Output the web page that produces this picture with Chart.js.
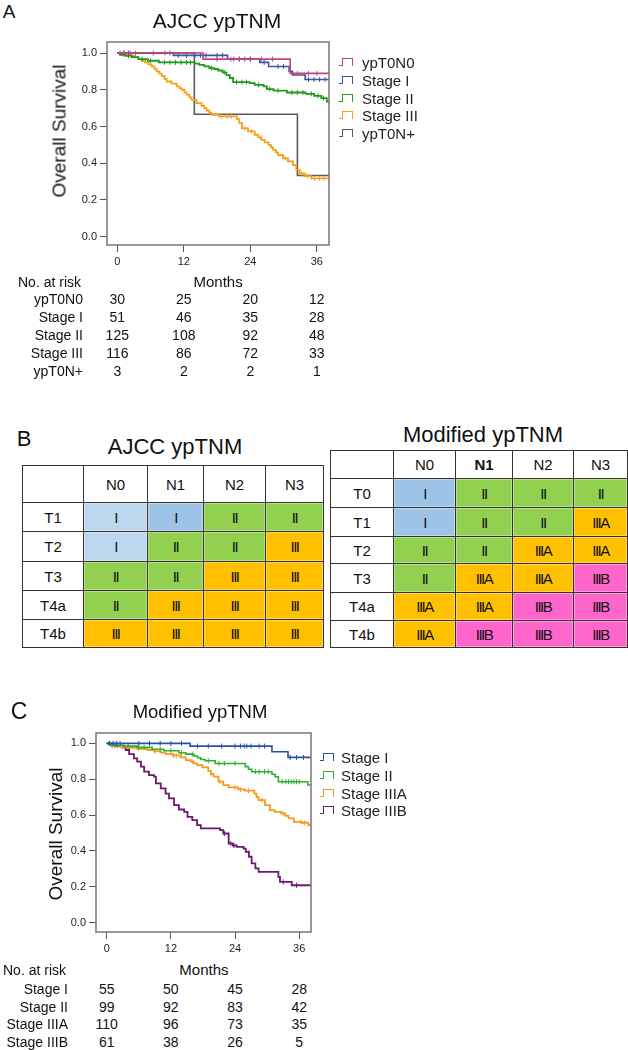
<!DOCTYPE html>
<html><head><meta charset="utf-8">
<script src="https://cdn.jsdelivr.net/npm/chart.js@4.4.1/dist/chart.umd.min.js"></script>
<style>
body{margin:0;width:628px;height:1050px;position:relative;background:#fff;font-family:"Liberation Sans",Arial,sans-serif;color:#111;overflow:hidden}
.t{position:absolute;white-space:nowrap;line-height:1}
canvas{position:absolute}
.cell{position:absolute;box-sizing:border-box;border:1px solid #333;display:flex;align-items:center;justify-content:center;font-size:15px;color:#111}
.rn{letter-spacing:-1.5px;font-size:15px}
.ic{position:absolute;width:15px;height:9px}
.ic i{position:absolute;display:block}
</style></head><body>
<canvas id="cA" width="340" height="250" style="left:0;top:30px"></canvas>
<canvas id="cC" width="330" height="240" style="left:0;top:720px"></canvas>
<div id="ov"></div>
<script>
// ---------- shared ticks ----------
const monthTicks = [0, 12, 24, 36];
const survTicks = [0, 0.2, 0.4, 0.6, 0.8, 1.0];

// ---------- Panel A : AJCC ypTNM ----------
const aLabels = ['ypT0N0', 'Stage I', 'Stage II', 'Stage III', 'ypT0N+'];
const aT0N0_t = [0, 15.5, 31.2, 38.2];
const aT0N0_s = [1, 0.967, 0.889, 0.889];
const aT0N0_c = [1.1, 2.3, 3.3, 6.5, 8.6, 9.5, 18, 20.5, 22, 24, 26, 28, 32.5, 34.5, 36];
const aS1_t = [0, 10.1, 19.9, 25.7, 27.3, 31.0, 31.6, 33.9, 38.2];
const aS1_s = [1, 0.987, 0.967, 0.949, 0.927, 0.9, 0.88, 0.856, 0.856];
const aS1_c = [0.5, 1.2, 2, 11, 12.5, 14, 15, 16, 18, 19, 21, 22, 23, 24, 26.5, 29, 30, 34.5, 35.5, 36.5, 37.5];
const aS2_t = [0, 0.5, 1.4, 2.6, 3.8, 5.5, 7.5, 14.0, 14.8, 15.7, 16.6, 17.5, 18.2, 19.0, 19.7, 20.3, 20.9, 23.9, 24.8, 26.4, 27.0, 28.2, 30.6, 34.0, 35.5, 36.8, 37.8, 38.2];
const aS2_s = [1, 0.99, 0.985, 0.978, 0.967, 0.958, 0.949, 0.942, 0.935, 0.927, 0.918, 0.913, 0.905, 0.895, 0.88, 0.864, 0.842, 0.836, 0.827, 0.818, 0.804, 0.795, 0.785, 0.778, 0.767, 0.755, 0.735, 0.735];
const aS2_c = [2, 4.5, 6, 8.5, 9.5, 10.5, 11.5, 12.5, 13.2, 17, 19.3, 21.5, 22.5, 23.3, 25.5, 27.5, 29, 31.5, 32.5, 33.5, 35, 36.2, 37.2];
const aS3_t = [0, 0.8, 1.4, 2.6, 3.2, 3.8, 4.4, 5.0, 5.6, 6.2, 6.7, 7.1, 7.6, 8.0, 8.5, 8.9, 9.8, 10.7, 11.2, 11.6, 12.1, 12.5, 13.0, 13.4, 14.3, 15.2, 15.7, 16.1, 16.6, 17.0, 18.3, 21.6, 22.0, 22.5, 23.6, 24.8, 25.4, 26.0, 26.6, 27.3, 27.7, 28.1, 28.6, 29.0, 29.9, 30.8, 31.7, 32.3, 32.9, 33.8, 35.0, 38.2];
const aS3_s = [1, 0.995, 0.991, 0.985, 0.976, 0.967, 0.958, 0.949, 0.938, 0.927, 0.914, 0.9, 0.888, 0.876, 0.86, 0.845, 0.833, 0.818, 0.809, 0.8, 0.786, 0.773, 0.759, 0.745, 0.727, 0.713, 0.7, 0.687, 0.675, 0.664, 0.655, 0.64, 0.62, 0.59, 0.573, 0.555, 0.541, 0.527, 0.514, 0.5, 0.486, 0.473, 0.459, 0.445, 0.427, 0.41, 0.39, 0.364, 0.345, 0.33, 0.318, 0.318];
const aS3_c = [1, 2, 18.8, 19.8, 20.6, 23, 24.2, 25.9, 30.3, 33.3, 34.3, 35.6, 36.5, 37.3];
const aT0Np_t = [0, 13.9, 32.5, 38.2];
const aT0Np_s = [1, 0.667, 0.333, 0.333];
const aT0Np_c = [];
const riskA_T0N0 = [30, 25, 20, 12];
const riskA_S1 = [51, 46, 35, 28];
const riskA_S2 = [125, 108, 92, 48];
const riskA_S3 = [116, 86, 72, 33];
const riskA_T0Np = [3, 2, 2, 1];

// ---------- Panel B : staging tables ----------
const ajccRows = ['T1', 'T2', 'T3', 'T4a', 'T4b'];
const ajccCols = ['N0', 'N1', 'N2', 'N3'];
const ajccStage = [
  ['I', 'I', 'II', 'II'],
  ['I', 'II', 'II', 'III'],
  ['II', 'II', 'III', 'III'],
  ['II', 'III', 'III', 'III'],
  ['III', 'III', 'III', 'III']];
const modRows = ['T0', 'T1', 'T2', 'T3', 'T4a', 'T4b'];
const modCols = ['N0', 'N1', 'N2', 'N3'];
const modStage = [
  ['I', 'II', 'II', 'II'],
  ['I', 'II', 'II', 'IIIA'],
  ['II', 'II', 'IIIA', 'IIIA'],
  ['II', 'IIIA', 'IIIA', 'IIIB'],
  ['IIIA', 'IIIA', 'IIIB', 'IIIB'],
  ['IIIA', 'IIIB', 'IIIB', 'IIIB']];

// ---------- Panel C : Modified ypTNM ----------
const cLabels = ['Stage I', 'Stage II', 'Stage IIIA', 'Stage IIIB'];
const cS1_t = [0, 15.6, 30.9, 33.9, 38.2];
const cS1_s = [1, 0.985, 0.953, 0.922, 0.922];
const cS1_c = [0.5, 1.2, 1.8, 2.5, 6, 8, 10, 12, 14, 17, 19, 21.5, 24, 25, 25.7, 26.2, 27, 28.5, 29.5, 34.3, 35.5, 36.8];
const cS2_t = [0, 0.8, 1.4, 3.2, 5.7, 8.5, 10.7, 13.5, 14.8, 16.3, 17.0, 17.6, 18.4, 20.3, 25.9, 26.5, 27.1, 30.9, 31.5, 32.1, 37.6, 38.2];
const cS2_s = [1, 0.993, 0.99, 0.985, 0.978, 0.967, 0.959, 0.948, 0.94, 0.93, 0.92, 0.91, 0.903, 0.888, 0.87, 0.856, 0.842, 0.828, 0.814, 0.786, 0.768, 0.768];
const cS2_c = [1, 2, 4, 6, 7, 10, 12, 14, 16, 19, 21, 22, 24, 27.8, 28.5, 29.5, 30.2, 32.8, 33.5, 34, 34.5, 35, 35.5, 36];
const cS3a_t = [0, 0.8, 1.4, 2.6, 4.0, 5.7, 7.6, 8.9, 10.1, 11.0, 12.3, 13.8, 14.8, 15.7, 16.3, 16.9, 17.9, 19.0, 19.5, 20.0, 20.9, 21.8, 22.8, 24.6, 25.8, 27.6, 28.0, 28.4, 29.6, 30.5, 31.4, 32.6, 33.4, 34.0, 35.0, 36.5, 37.7, 38.2];
const cS3a_s = [1, 0.993, 0.987, 0.98, 0.975, 0.97, 0.963, 0.955, 0.948, 0.94, 0.933, 0.922, 0.907, 0.898, 0.888, 0.879, 0.866, 0.847, 0.83, 0.814, 0.786, 0.767, 0.754, 0.743, 0.736, 0.72, 0.7, 0.683, 0.655, 0.627, 0.618, 0.609, 0.595, 0.581, 0.562, 0.557, 0.544, 0.544];
const cS3a_c = [1, 2, 3, 6, 9, 12.5, 13, 16, 19.5, 21.2, 24, 25, 26.5, 29, 33, 36.3, 37];
const cS3b_t = [0, 0.75, 1.7, 2.9, 3.55, 4.2, 5.1, 5.7, 6.4, 7.0, 7.9, 8.85, 9.2, 10.1, 11.0, 11.65, 12.6, 13.5, 14.5, 15.1, 16.0, 16.9, 17.6, 21.2, 21.8, 22.8, 23.6, 24.3, 25.6, 26.0, 26.6, 27.1, 27.8, 28.4, 32.1, 32.4, 34.6, 38.2];
const cS3b_s = [1, 0.99, 0.985, 0.978, 0.963, 0.94, 0.916, 0.898, 0.87, 0.842, 0.823, 0.814, 0.777, 0.749, 0.72, 0.693, 0.655, 0.631, 0.618, 0.59, 0.572, 0.544, 0.525, 0.516, 0.497, 0.441, 0.43, 0.422, 0.413, 0.395, 0.367, 0.33, 0.302, 0.283, 0.255, 0.227, 0.208, 0.208];
const cS3b_c = [0.5, 1, 1.5, 22, 23.2, 23.8, 33, 35.5];
const riskC_S1 = [55, 50, 45, 28];
const riskC_S2 = [99, 92, 83, 42];
const riskC_S3a = [110, 96, 73, 35];
const riskC_S3b = [61, 38, 26, 5];

// ================= rendering =================
const FONT = '"Liberation Sans", Arial, sans-serif';
const ov = document.getElementById('ov');
function txt(s, x, y, size, align, extra) {
  const d = document.createElement('div');
  d.className = 't';
  d.textContent = s;
  d.style.left = x + 'px';
  d.style.top = y + 'px';
  d.style.fontSize = size + 'px';
  const tx = align === 'right' ? '-100%' : (align === 'left' ? '0' : '-50%');
  d.style.transform = 'translate(' + tx + ',-50%)' + (extra && extra.rot ? ' rotate(-90deg)' : '');
  if (extra && extra.css) Object.assign(d.style, extra.css);
  ov.appendChild(d);
  return d;
}
function stepData(t, s) { return t.map((x, i) => ({x: x, y: s[i]})); }
function survAt(t, s, x) { let v = s[0]; for (let i = 0; i < t.length; i++) if (t[i] <= x) v = s[i]; return v; }

const framePlugin = {
  id: 'frame',
  afterDatasetsDraw(chart) {
    const a = chart.chartArea, ctx = chart.ctx;
    ctx.save();
    ctx.strokeStyle = '#777';
    ctx.lineWidth = 1.5;
    ctx.strokeRect(a.left, a.top, a.right - a.left, a.bottom - a.top);
    ctx.restore();
  }
};

function kmChart(id, series, cfg) {
  const datasets = [];
  series.forEach(sr => {
    datasets.push({label: sr.name, data: stepData(sr.t, sr.s), borderColor: sr.color, borderWidth: sr.w,
      stepped: 'before', pointRadius: 0, fill: false, tension: 0});
    if (sr.c.length) datasets.push({label: sr.name + ' censored', data: sr.c.map(x => ({x: x, y: survAt(sr.t, sr.s, x)})),
      showLine: false, pointStyle: 'line', rotation: 90, pointRadius: 2.5, pointBorderWidth: 1,
      borderColor: sr.color, backgroundColor: sr.color, pointHoverRadius: 0});
  });
  const tickFont = {family: FONT, size: 11};
  return new Chart(document.getElementById(id), {
    type: 'line',
    data: {datasets: datasets},
    options: {
      responsive: false, animation: false, devicePixelRatio: 1,
      layout: {padding: {left: 0, top: cfg.top, right: cfg.right, bottom: 0}},
      plugins: {legend: {display: false}, tooltip: {enabled: false}},
      events: [],
      scales: {
        x: {type: 'linear', min: cfg.xmin, max: cfg.xmax,
          afterBuildTicks: s => { s.ticks = monthTicks.map(v => ({value: v})); },
          afterFit: s => { s.height = cfg.xh; },
          grid: {display: true, drawOnChartArea: false, drawTicks: true, tickLength: 7, color: '#555', lineWidth: 1},
          border: {display: false},
          ticks: {autoSkip: false, maxRotation: 0, padding: 3, color: '#222', font: tickFont, callback: v => String(v)}},
        y: {type: 'linear', min: cfg.ymin, max: cfg.ymax,
          afterBuildTicks: s => { s.ticks = survTicks.map(v => ({value: v})); },
          afterFit: s => { s.width = cfg.yw; },
          grid: {display: true, drawOnChartArea: false, drawTicks: true, tickLength: 7, color: '#555', lineWidth: 1},
          border: {display: false},
          ticks: {autoSkip: false, padding: 3, color: '#222', font: tickFont, callback: v => Number(v).toFixed(1)}}
      }
    },
    plugins: [framePlugin]
  });
}

// ---- Panel A chart ----
const colA = ['#c2457f', '#3b55a5', '#1f9a1f', '#f7a11a', '#5a5a5a'];
const chartA = kmChart('cA', [
  {name: aLabels[0], t: aT0N0_t, s: aT0N0_s, c: aT0N0_c, color: colA[0], w: 1.6},
  {name: aLabels[1], t: aS1_t, s: aS1_s, c: aS1_c, color: colA[1], w: 1.6},
  {name: aLabels[2], t: aS2_t, s: aS2_s, c: aS2_c, color: colA[2], w: 1.8},
  {name: aLabels[3], t: aS3_t, s: aS3_s, c: aS3_c, color: colA[3], w: 1.8},
  {name: aLabels[4], t: aT0Np_t, s: aT0Np_s, c: aT0Np_c, color: colA[4], w: 1.6}
], {top: 12, right: 11, xh: 35, yw: 107, xmin: -1.86, xmax: 38.2, ymin: -0.045, ymax: 1.06});

// ---- Panel C chart ----
const colC = ['#2e4fa8', '#2fae2f', '#f79a1e', '#6a1b6e'];
const chartC = kmChart('cC', [
  {name: cLabels[0], t: cS1_t, s: cS1_s, c: cS1_c, color: colC[0], w: 1.6},
  {name: cLabels[1], t: cS2_t, s: cS2_s, c: cS2_c, color: colC[1], w: 1.6},
  {name: cLabels[2], t: cS3a_t, s: cS3a_s, c: cS3a_c, color: colC[2], w: 1.8},
  {name: cLabels[3], t: cS3b_t, s: cS3b_s, c: cS3b_c, color: colC[3], w: 1.8}
], {top: 13, right: 19, xh: 28, yw: 96, xmin: -2.0, xmax: 38.2, ymin: -0.053, ymax: 1.058});

// ---- titles & labels ----
txt('A', 9, 11, 19);
txt('AJCC ypTNM', 217, 20, 21);
txt('Overall Survival', 59, 131, 19, 'center', {rot: true});
txt('B', 24, 439, 22);
txt('AJCC ypTNM', 175, 447, 22);
txt('Modified ypTNM', 483, 435, 22);
txt('C', 19, 711, 23);
txt('Modified ypTNM', 200, 712, 18.5);
txt('Overall Survival', 55, 834, 19, 'center', {rot: true});

// ---- legends ----
function legend(labels, colors, iconX, textX, ys, size) {
  labels.forEach((l, i) => {
    const ic = document.createElement('div');
    ic.className = 'ic';
    ic.style.left = iconX + 'px';
    ic.style.top = (ys[i] - 4) + 'px';
    const c = colors[i];
    ic.innerHTML = '<i style="left:0;top:7px;width:4px;height:0;border-top:1.5px solid ' + c + '"></i>' +
      '<i style="left:3px;top:0;width:9px;height:7px;border:1.5px solid ' + c + ';border-bottom:none"></i>';
    ov.appendChild(ic);
    txt(l, textX, ys[i], size, 'left', {css: {color: '#222'}});
  });
}
legend(aLabels, colA, 339, 362, [62, 80, 97.5, 115, 133], 15);
legend(cLabels, colC, 320, 341, [757, 774.5, 792.5, 810], 15);

// ---- number at risk ----
function riskTable(chart, canvasLeft, labels, rows, headY, ys, labelRight, noLeft) {
  txt('No. at risk', noLeft, headY, 14, 'left');
  const xs = monthTicks.map(m => canvasLeft + chart.scales.x.getPixelForValue(m));
  txt('Months', (xs[0] + xs[3]) / 2 + 1, headY - 1, 15);
  labels.forEach((l, i) => {
    txt(l, labelRight, ys[i], 14, 'right');
    rows[i].forEach((v, j) => txt(String(v), xs[j], ys[i], 14));
  });
}
riskTable(chartA, 0, aLabels, [riskA_T0N0, riskA_S1, riskA_S2, riskA_S3, riskA_T0Np], 282, [299, 316.5, 334.5, 352.5, 370.5], 83, 18);
riskTable(chartC, 0, cLabels, [riskC_S1, riskC_S2, riskC_S3a, riskC_S3b], 970, [989, 1006.5, 1024, 1041.5], 68, 3);

// ---- Panel B tables ----
const stageFill = {'I': '#9dc3e6', 'II': '#92d050', 'III': '#ffc000', 'IIIA': '#ffc000', 'IIIB': '#ff66cc'};
const ajccLightI = '#bdd7ee';
function cell(x0, y0, x1, y1, content, fill, bold, roman) {
  const d = document.createElement('div');
  d.className = 'cell';
  d.style.left = x0 + 'px'; d.style.top = y0 + 'px';
  d.style.width = (x1 - x0 + 1) + 'px'; d.style.height = (y1 - y0 + 1) + 'px';
  d.style.background = fill || '#fff';
  if (fill) d.style.boxShadow = 'inset 0 0 0 1px rgba(255,255,255,0.35)';
  const s = document.createElement('span');
  s.textContent = content;
  if (roman) s.className = 'rn';
  if (bold) s.style.fontWeight = 'bold';
  d.appendChild(s);
  ov.appendChild(d);
}
function stageTable(cols, rows, stages, xE, yE, fillFn, boldCol) {
  cell(xE[0], yE[0], xE[1], yE[1], '', null);
  cols.forEach((c, j) => cell(xE[j + 1], yE[0], xE[j + 2], yE[1], c, null, j === boldCol));
  rows.forEach((r, i) => {
    cell(xE[0], yE[i + 1], xE[1], yE[i + 2], r, null);
    stages[i].forEach((st, j) => cell(xE[j + 1], yE[i + 1], xE[j + 2], yE[i + 2], st, fillFn(st, i, j), false, true));
  });
}
stageTable(ajccCols, ajccRows, ajccStage, [22, 83, 147, 203, 265, 323], [465, 502, 531, 561, 590, 619, 647],
  (st, i, j) => (st === 'I' && j === 0) ? ajccLightI : stageFill[st], -1);
stageTable(modCols, modRows, modStage, [330, 393, 455, 512, 573, 627], [450, 478, 507, 536, 563, 592, 620, 647],
  (st) => stageFill[st], 1);
</script>
</body></html>
